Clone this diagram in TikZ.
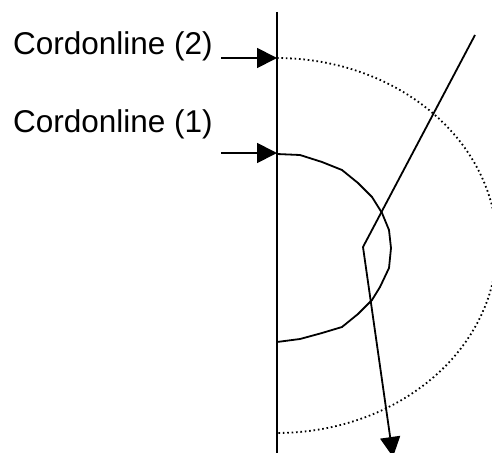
\documentclass[tikz,border=0pt]{standalone}
\usepackage{fontspec}
\setmainfont{Liberation Sans}
\usetikzlibrary{arrows.meta}
\tikzset{
  lbl/.style={anchor=base west, inner sep=0pt, font=\fontsize{31.5}{36}\selectfont},
  ln/.style={line width=1.8pt, line join=miter},
  arr/.style={ln, -{Triangle[length=20pt,width=20pt]}},
  dotline/.style={line width=1.8pt, dash pattern=on 1.6pt off 2.8pt}
}
\begin{document}
\begin{tikzpicture}[x=1pt,y=-1pt]
\useasboundingbox (0,0) rectangle (492,452);
% vertical line
\coordinate (vt) at (277,12);
\coordinate (vb) at (277,455);
\draw[ln] (vt) -- (vb);
% labels
\node[lbl] (l2) at (13,55) {Cordonline (2)};
\node[lbl] (l1) at (13,132) {Cordonline (1)};
\coordinate (a2s) at (221,58);
\coordinate (a2e) at (277,58);
\coordinate (a1s) at (221,153);
\coordinate (a1e) at (277,153);
\draw[arr] (a2s) -- (a2e);
\draw[arr] (a1s) -- (a1e);
% dotted ellipse
\draw[dotline] plot[domain=-90:90, samples=80] ({277+220*cos(\x)}, {245.5+187.5*sin(\x)});
% solid polygonal curve
\draw[ln] (277,154) -- (300,155) -- (322,162) -- (342,170) -- (358,183) -- (372,197)
  -- (382,213) -- (389,230) -- (391,248) -- (389,268) -- (380,287) -- (372,300)
  -- (358,314) -- (342,327) -- (322,333) -- (300,339) -- (277,342);
% zigzag arrow
\coordinate (z0) at (475,35);
\coordinate (z1) at (363,247);
\coordinate (z2) at (393,457);
\draw[arr] (z0) -- (z1) -- (z2);
\end{tikzpicture}
\end{document}
